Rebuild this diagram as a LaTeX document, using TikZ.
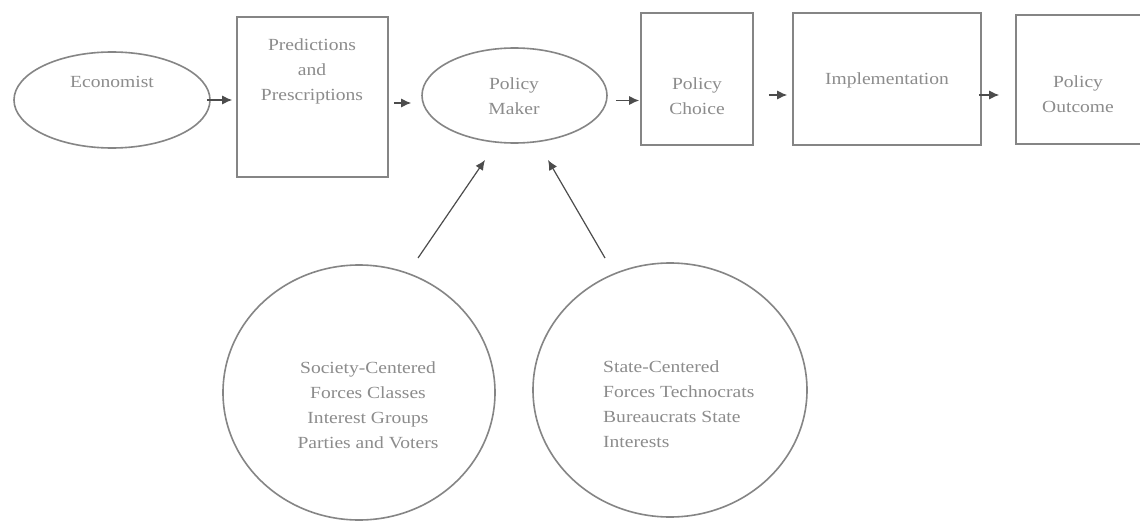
\documentclass[tikz,border=0pt]{standalone}
\usepackage{fontspec}
\setmainfont{Liberation Serif}[FakeStretch=1.15]
\usetikzlibrary{shapes.geometric,arrows.meta,calc}
\definecolor{linec}{gray}{0.52}
\definecolor{textc}{gray}{0.55}
\definecolor{tipc}{gray}{0.3}
\tikzset{
  shp/.style={draw=linec, line width=1.6pt, inner sep=0pt},
  ell/.style={shp, ellipse},
  boxn/.style={shp, rectangle},
  txt/.style={text=textc, font=\fontsize{17}{25}\selectfont, align=center, inner sep=0pt},
  arr/.style={draw=tipc, line width=1.2pt, -{Latex[length=10pt,width=9pt]}},
}
\begin{document}
\begin{tikzpicture}[x=1pt,y=1pt]
\useasboundingbox (0,0) rectangle (1140,-524);
\fill[white] (0,0) rectangle (1140,-524);
% top row shapes
\node[ell, minimum width=196, minimum height=96] (econ) at (112,-100) {};
\node[txt] (econT) at (112,-82) {Economist};
\node[boxn, minimum width=151, minimum height=160] (pred) at (312.5,-97) {};
\node[txt] (predT) at (312,-71) {Predictions\\and\\Prescriptions};
\node[ell, minimum width=185, minimum height=95] (maker) at (514.5,-95.5) {};
\node[txt] (makerT) at (514,-96) {Policy\\Maker};
\node[boxn, minimum width=112, minimum height=132] (choice) at (697,-79) {};
\node[txt] (choiceT) at (697,-96) {Policy\\Choice};
\node[boxn, minimum width=188, minimum height=132] (impl) at (887,-79) {};
\node[txt] (implT) at (887,-80) {Implementation};
\node[boxn, minimum width=140, minimum height=129] (out) at (1086,-79.5) {};
\node[txt] (outT) at (1078,-94) {Policy\\Outcome};
% bottom circles
\node[ell, minimum width=272, minimum height=255] (soc) at (359,-392.5) {};
\node[txt] (socT) at (368,-405) {Society-Centered\\Forces Classes\\Interest Groups\\Parties and Voters};
\node[ell, minimum width=274, minimum height=254] (state) at (670,-390) {};
\node[txt, align=left, anchor=west] (stateT) at (603,-404) {State-Centered\\Forces Technocrats\\Bureaucrats State\\Interests};
% connectors
\draw[arr] ($(econ.east)+(-4,0)$) -- ($(pred.west)+(-4,-3)$);
\draw[arr, shorten <=5pt, shorten >=10pt] (pred.east |- 0,-103) -- (maker.west |- 0,-103);
\draw[arr, shorten <=8pt, shorten >=1pt] ($(maker.east)+(0,-5)$) -- (choice.west |- 0,-100.5);
\draw[arr, shorten <=15pt, shorten >=5pt] (choice.east |- 0,-95) -- (impl.west |- 0,-95);
\draw[arr, shorten <=-3pt, shorten >=16pt] (impl.east |- 0,-95) -- (out.west |- 0,-95);
\coordinate (s1) at (418,-258);
\coordinate (s2) at (485,-160);
\coordinate (t1) at (605,-258);
\coordinate (t2) at (548,-160);
\draw[arr] (s1) -- (s2);
\draw[arr] (t1) -- (t2);
\end{tikzpicture}
\end{document}
